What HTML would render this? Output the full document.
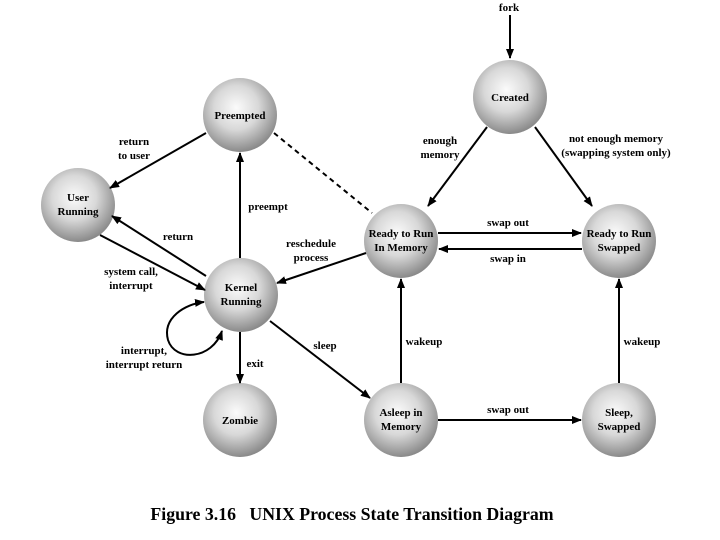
<!DOCTYPE html>
<html><head><style>
body{margin:0;background:#fff}
svg{display:block}
text{font-family:"Liberation Serif",serif;font-weight:bold;font-size:11px;fill:#000}
</style></head><body>
<svg width="720" height="540" viewBox="0 0 720 540">
<defs>
<radialGradient id="g" cx="0.45" cy="0.4" r="0.6">
<stop offset="0" stop-color="#fbfbfb"/><stop offset="0.5" stop-color="#d8d8d8"/><stop offset="1" stop-color="#8a8a8a"/>
</radialGradient>
<marker id="a" markerWidth="10" markerHeight="8" refX="9" refY="4" orient="auto" markerUnits="userSpaceOnUse">
<path d="M0,0 L10,4 L0,8 Z" fill="#000"/></marker>
<marker id="b" markerWidth="10" markerHeight="8" refX="9" refY="4" orient="auto-start-reverse" markerUnits="userSpaceOnUse">
<path d="M0,0 L10,4 L0,8 Z" fill="#000"/></marker>
</defs>
<g fill="url(#g)">
<circle cx="240" cy="115" r="37"/><circle cx="510" cy="97" r="37"/>
<circle cx="78" cy="205" r="37"/><circle cx="241" cy="295" r="37"/>
<circle cx="401" cy="241" r="37"/><circle cx="619" cy="241" r="37"/>
<circle cx="240" cy="420" r="37"/><circle cx="401" cy="420" r="37"/>
<circle cx="619" cy="420" r="37"/>
</g>
<g stroke="#000" stroke-width="2" fill="none">
<line x1="510" y1="15" x2="510" y2="58" marker-end="url(#a)"/>
<line x1="487" y1="127" x2="428" y2="206" marker-end="url(#a)"/>
<line x1="535" y1="127" x2="592" y2="206" marker-end="url(#a)"/>
<line x1="438" y1="233" x2="581" y2="233" marker-end="url(#a)"/>
<line x1="582" y1="249" x2="439" y2="249" marker-end="url(#a)"/>
<line x1="366" y1="253" x2="277" y2="283" marker-end="url(#a)"/>
<line x1="274" y1="133" x2="372" y2="213" stroke-dasharray="5,4"/>
<line x1="240" y1="258" x2="240" y2="153" marker-end="url(#a)"/>
<line x1="206" y1="133" x2="110" y2="188" marker-end="url(#a)"/>
<line x1="206" y1="276" x2="112" y2="216" marker-end="url(#a)"/>
<line x1="100" y1="235" x2="205" y2="290" marker-end="url(#a)"/>
<line x1="240" y1="332" x2="240" y2="383" marker-end="url(#a)"/>
<line x1="270" y1="321" x2="370" y2="398" marker-end="url(#a)"/>
<line x1="401" y1="383" x2="401" y2="279" marker-end="url(#a)"/>
<line x1="438" y1="420" x2="581" y2="420" marker-end="url(#a)"/>
<line x1="619" y1="383" x2="619" y2="279" marker-end="url(#a)"/>
<path d="M222,331 C212,360 175,362 168,340 C162,318 185,304 204,302" marker-end="url(#b)" marker-start="url(#b)"/>
</g>
<g text-anchor="middle">
<text x="240" y="119">Preempted</text>
<text x="510" y="101">Created</text>
<text x="78" y="201">User</text><text x="78" y="215">Running</text>
<text x="241" y="291">Kernel</text><text x="241" y="305">Running</text>
<text x="401" y="237">Ready to Run</text><text x="401" y="251">In Memory</text>
<text x="619" y="237">Ready to Run</text><text x="619" y="251">Swapped</text>
<text x="240" y="424">Zombie</text>
<text x="401" y="416">Asleep in</text><text x="401" y="430">Memory</text>
<text x="619" y="416">Sleep,</text><text x="619" y="430">Swapped</text>
<text x="509" y="11">fork</text>
<text x="440" y="144">enough</text><text x="440" y="158">memory</text>
<text x="616" y="142">not enough memory</text><text x="616" y="156">(swapping system only)</text>
<text x="508" y="226">swap out</text><text x="508" y="262">swap in</text>
<text x="311" y="247">reschedule</text><text x="311" y="261">process</text>
<text x="134" y="145">return</text><text x="134" y="159">to user</text>
<text x="268" y="210">preempt</text>
<text x="178" y="240">return</text>
<text x="131" y="275">system call,</text><text x="131" y="289">interrupt</text>
<text x="144" y="354">interrupt,</text><text x="144" y="368">interrupt return</text>
<text x="255" y="367">exit</text>
<text x="325" y="349">sleep</text>
<text x="424" y="345">wakeup</text>
<text x="508" y="413">swap out</text>
<text x="642" y="345">wakeup</text>
<text x="352" y="520" style="font-size:17.8px;white-space:pre" xml:space="preserve">Figure 3.16   UNIX Process State Transition Diagram</text>
</g>
</svg>
</body></html>
